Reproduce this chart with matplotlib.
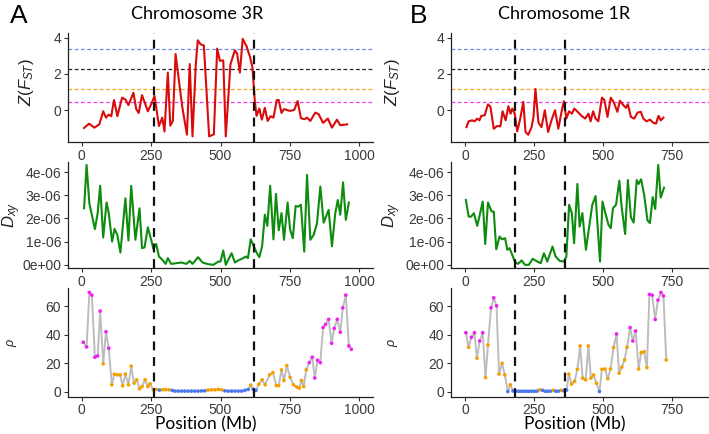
import numpy as np
import matplotlib
matplotlib.use("Agg")
from matplotlib import pyplot as plt

plt.rcParams['font.family'] = ['Liberation Sans', 'DejaVu Sans']
plt.rcParams['mathtext.fontset'] = 'custom'
plt.rcParams['mathtext.rm'] = 'Liberation Sans'
plt.rcParams['mathtext.it'] = 'Liberation Sans:italic'

## Chromosome 3R (panel A)
fst_pos_A = [8, 26, 45, 63, 77, 87, 97, 106, 116, 128, 145, 157, 168, 186, 196, 205, 217, 238, 250, 262,
             278, 290, 298, 310, 319, 328, 338, 362, 379, 389, 399, 411, 418, 428, 440, 459, 476, 488, 498, 510,
             519, 536, 552, 560, 570, 580, 594, 606, 615, 624, 630, 640, 649, 660, 670, 681, 691, 703, 710, 720,
             729, 751, 766, 778, 790, 802, 812, 824, 842, 854, 870, 887, 902, 920, 932, 944, 957]
fst_A = [-0.98, -0.74, -0.96, -0.78, -0.06, -0.41, -0.24, -0.33, 0.56, -0.33, 0.69, 0.59, 0.28, 0.96, 0.06,
         -0.15, 0.83, -0.06, 0.33, 0.78, -0.87, -0.41, -1.17, 2.07, -0.85, -0.59, 3.09, 0.19, -1.35, 2.54,
         -1.44, 2.54, 3.85, 3.63, 3.56, -1.44, -1.33, 3.39, 2.72, 2.74, -1.44, 2.54, 3.30, 3.11, 2.07,
         3.93, 3.52, 2.96, 2.37, 0.46, -0.31, 0.09, -0.52, 0.13, -0.59, -0.33, -0.41, 0.56, 0.56, -0.15,
         0.06, -0.04, 0.02, 0.5, -0.43, -0.5, -0.41, -0.59, -0.13, -0.22, -0.7, -0.46, -0.96, -0.52, -0.83,
         -0.8, -0.78]

dxy_pos_A = [8, 17, 27, 47, 57, 66, 77, 89, 97, 109, 118, 128, 139, 157, 168, 178, 193, 208, 217, 226,
             238, 250, 258, 268, 278, 290, 302, 310, 322, 341, 359, 377, 389, 399, 419, 435, 455, 474, 492, 500,
             510, 519, 540, 552, 564, 582, 592, 599, 609, 618, 630, 640, 650, 660, 669, 679, 691, 700, 710, 720,
             729, 742, 751, 761, 771, 780, 790, 802, 812, 824, 836, 848, 860, 872, 890, 902, 914, 923, 932, 942,
             952, 963]
dxy_A = [2.44, 4.31, 2.66, 1.54, 2.23, 3.41, 1.18, 2.69, 2.23, 1.0, 1.55, 1.29, 0.53, 2.87, 1.05, 3.41,
         1.08, 2.44, 0.72, 0.75, 1.62, 1.08, 0.68, 0.9, 0.36, 0.22, 0.04, 0.29, 0.04, 0.07, 0.1, 0.04, 0.17,
         0.04, 0.33, 0.1, 0.03, 0.0, 0.14, 0.14, 0.62, 0.0, 0.5, 0.1, 0.19, 0.29, 0.36, 0.29, 1.1, 0.86,
         0.53, 0.33, 0.8, 2.16, 1.68, 3.41, 1.1, 3.06, 1.49, 2.23, 1.08, 2.69, 1.52, 1.15, 2.54, 2.51, 2.59,
         0.57, 3.88, 1.08, 1.29, 1.79, 3.38, 1.82, 2.37, 0.8, 2.23, 2.8, 2.16, 3.56, 1.94, 2.69]  # x 1e-06

rho_pos_A = [5, 17, 27, 36, 47, 57, 66, 77, 87, 97, 108, 117, 128, 138, 147, 157, 168, 178, 188, 198,
             208, 217, 228, 238, 246,
             258, 268, 280, 292, 302, 314, 326, 336, 347, 359, 371, 383, 395, 407, 419, 431, 443, 455, 467, 480,
             492, 504, 516, 528, 540, 552, 564, 576, 588, 600, 609, 618, 628,
             638, 650, 661, 677, 689, 701, 710, 720, 729, 739, 751, 763, 775, 784, 792, 800, 809, 820, 831, 840,
             850, 860, 870, 879, 890, 901, 910, 921, 932, 941, 952, 963, 972]
rho_A = [34.6, 31.3, 69.6, 67.7, 24.1, 25, 56.5, 19.4, 42, 30.4, 4.7, 12.2, 11.7, 11.7, 4, 12.2, 4.7, 17.8,
         5.9, 8.2, 1.9, 3.5, 8.2, 3.5, 5.4,
         1.2, 1.5, 1.0, 1.3, 1.3, 1.2, 0.8, 0.3, 0.3, 0.3, 0.3, 0.3, 0.3, 0.3, 0.3, 0.4, 0.5, 1.0, 1.2, 1.2,
         1.5, 1.2, 0.5, 0.3, 0.3, 0.3, 0.3, 0.3, 0.8, 1.5, 4.5, 1.5, 0.8,
         5.1, 8.2, 4.7, 11.7, 13.3, 4.2, 4.2, 15.2, 7.7, 18.2, 10, 4.7, 3.1, 2.4, 7.7, 3.5, 15.2, 20.3, 24.1,
         9.5, 22, 20.3, 45, 47.2, 50.7, 33.9, 44.3, 50.7, 41.6, 58.8, 67.7, 32, 29.7]
# m = high, o = intermediate, b = low recombination class
rho_cls_A = ("mmmmmmmommooooooooooooooo"
             "oobooobbbbbbbbbbbooooobbbbbbbbobb"
             "ooooooooooooooooommmmmmmmmmmmmmmm")

## Chromosome 1R (panel B)
fst_pos_B = [4, 12, 24, 34, 43, 51, 58, 70, 82, 91, 103, 115, 127, 135, 146, 156, 164, 170, 179, 188,
             199, 210, 218, 228, 240, 247, 254, 265, 276, 288, 300, 312, 325, 337, 349, 357, 366, 376, 386, 395,
             407, 421, 434, 446, 454, 463, 472, 482, 495, 504, 515, 527, 538, 551, 560, 570, 582, 589, 600, 612,
             624, 636, 645, 656, 669, 681, 691, 700, 708, 718]
fst_B = [-0.93, -0.61, -0.56, -0.61, -0.46, -0.56, -0.31, -0.28, 0.32, 0.19, -1.02, -0.87, -0.89, -0.06,
         -0.56, 0.22, -0.19, 0.09, -0.19, -1.17, -0.46, 0.46, -1.2, -1.35, -0.93, -0.37, 1.17, -0.69, -0.93,
         0.0, -1.2, -0.56, 0.0, -1.02, -0.06, 0.5, -0.46, -0.06, -0.19, 0.09, -0.09, -0.31, -0.46, -0.19,
         -0.61, -0.06, -0.46, -0.61, 0.69, 0.56, -0.37, 0.69, 0.43, -0.09, 0.52, 0.32, 0.13, 0.33, -0.37,
         -0.46, -0.13, -0.09, -0.46, -0.61, -0.52, -0.69, -0.74, -0.31, -0.56, -0.41]

dxy_pos_B = [2, 12, 21, 31, 43, 55, 63, 72, 82, 95, 103, 112, 124, 133, 144, 152, 160, 170, 179, 191,
             204, 216, 230, 244, 261, 273, 285, 297, 316, 327, 342, 357, 366, 376, 386, 394, 406, 414, 424, 437,
             448, 460, 472, 488, 497, 509, 519, 527, 535, 546, 558, 567, 579, 589, 600, 610, 621, 628, 637, 648,
             660, 669, 679, 688, 699, 708, 720]
dxy_B = [2.8, 2.08, 2.08, 2.23, 1.68, 2.3, 2.73, 0.9, 2.69, 2.3, 2.3, 0.67, 1.22, 1.1, 1.15, 0.65, 0.72,
         0.43, 0.14, 0.04, 0.19, 0.0, 0.0, 0.26, 0.14, 0.07, 0.5, 0.14, 0.79, 0.36, 0.17, 0.14, 0.36, 2.59,
         2.23, 0.93, 3.49, 1.65, 2.23, 0.65, 1.58, 2.59, 2.97, 0.14, 2.73, 2.16, 1.72, 1.58, 2.44, 2.59, 3.63,
         2.44, 1.33, 3.66, 2.05, 1.82, 3.66, 3.49, 3.69, 3.02, 1.92, 1.8, 2.92, 2.41, 4.31, 2.9, 3.33]

rho_pos_B = [2, 12, 22, 33, 42, 52, 63, 73, 82, 93, 103, 113, 122, 133, 143, 154, 163,
             173, 183, 193, 202, 212, 222, 231, 241, 251, 260, 270, 280, 290, 299, 309, 319, 328, 338, 348, 357, 367,
             375, 385, 396, 406, 416, 425, 436, 446, 455, 465, 475, 486, 495, 506, 516, 526, 537, 548, 557, 567,
             577, 586, 597, 607, 617, 628, 637, 648, 658, 667, 677, 688, 698, 709, 718, 728]
rho_B = [41.3, 31.1, 38.1, 41.3, 23.4, 35.5, 41.3, 9.8, 32.7, 58.8, 65.8, 60.2, 12.3, 19.8, 11.6, 0, 4.7,
         0.4, 0.2, 0.2, 0.2, 0.2, 0.2, 0.2, 0.2, 0.2, 0.3, 1.2, 0.8, 0.2, 0.2, 0.3, 0.8, 0.2, 0.3, 0.8, 0.5, 1.0,
         12.2, 5.2, 7.1, 15.6, 32, 9.4, 8.2, 32, 9.4, 11.6, 5.8, 0, 15.6, 15.8, 9.0, 15.8, 30.9, 40.4, 12.9,
         17.1, 22.2, 31.1, 44.9, 35.5, 42.5, 15.8, 27.3, 28.0, 16.8, 68.2, 67.7, 50.6, 64.2, 69.6, 67.2, 22.2]
rho_cls_B = ("mommommoommmooobo"
             "bbbbbbbbbbobbbbobbobb"
             "ooooooooooobooooomoooommmoooommmmmmo")

# thresholds of Z(Fst), same in both panels
thresholds = [3.37, 2.26, 1.15, 0.46]
thr_colors = ['#6C8FE6', '#222222', '#F5A623', '#EE3BEE']

cls_colors = {'m': '#F020F0', 'o': '#F5A000', 'b': '#4A78F0'}

W, H = 709, 434
fig = plt.figure(figsize=(W / 100, H / 100), dpi=100)

def rect(x0, x1, y0, y1):
    return [x0 / W, 1 - y1 / H, (x1 - x0) / W, (y1 - y0) / H]

rows = [(33, 142), (161.7, 268.3), (288.3, 396.5)]
cols = {'A': (68, 373), 'B': (451, 709)}
xlims = {'A': (-50, 1050), 'B': (-52, 883)}
xticks = {'A': [0, 250, 500, 750, 1000], 'B': [0, 250, 500, 750]}
breaks = {'A': (259, 620), 'B': (179, 360)}

def style(ax, panel):
    for s in ['top', 'right']:
        ax.spines[s].set_visible(False)
    for s in ['left', 'bottom']:
        ax.spines[s].set_linewidth(0.9)
        ax.spines[s].set_color('#222222')
    ax.tick_params(direction='out', length=3, width=0.8, color='#333333',
                   labelsize=10, labelcolor='#3a3a3a', pad=2)
    ax.set_xlim(*xlims[panel])
    ax.set_xticks(xticks[panel])
    for b in breaks[panel]:
        ax.axvline(b, color='#111111', ls=(0, (4, 3)), lw=1.6, zorder=5)

data = {
    'A': (fst_pos_A, fst_A, dxy_pos_A, dxy_A, rho_pos_A, rho_A, rho_cls_A),
    'B': (fst_pos_B, fst_B, dxy_pos_B, dxy_B, rho_pos_B, rho_B, rho_cls_B),
}

for panel, (fp, fv, dp, dv, rp, rv, rc) in data.items():
    x0, x1 = cols[panel]
    # Z(Fst)
    ax = fig.add_axes(rect(x0, x1, *rows[0]))
    for t, c in zip(thresholds, thr_colors):
        ax.axhline(t, color=c, ls=(0, (3, 2)), lw=0.9, zorder=1)
    ax.plot(fp, fv, color='#D90B0B', lw=1.5, zorder=3)
    ax.set_ylim(-1.75, 4.25)
    ax.set_yticks([0, 2, 4])
    style(ax, panel)

    # Dxy
    ax = fig.add_axes(rect(x0, x1, *rows[1]))
    ax.plot(dp, dv, color='#0E8C0E', lw=1.5, zorder=3)
    ax.set_ylim(-0.15, 4.45)
    ax.set_yticks([0, 1, 2, 3, 4])
    ax.set_yticklabels(['0e+00', '1e-06', '2e-06', '3e-06', '4e-06'])
    style(ax, panel)

    # rho
    ax = fig.add_axes(rect(x0, x1, *rows[2]))
    ax.plot(rp, rv, color='#BDBDBD', lw=1.4, zorder=2)
    ax.scatter(rp, rv, s=7, c=[cls_colors[k] for k in rc], lw=0, zorder=3)
    ax.set_ylim(-3.5, 72.5)
    ax.set_yticks([0, 20, 40, 60])
    style(ax, panel)

# labels, placed in pixel coordinates
def ftext(x, y, s, **kw):
    fig.text(x / W, 1 - y / H, s, ha='center', va='center', **kw)

ftext(19, 16, 'A', fontsize=19)
ftext(419, 16, 'B', fontsize=19)
ftext(197, 14, 'Chromosome 3R', fontsize=13, family=['Lato', 'DejaVu Sans'])
ftext(564, 14, 'Chromosome 1R', fontsize=13, family=['Lato', 'DejaVu Sans'])
ftext(206, 424, 'Position (Mb)', fontsize=12.5, family=['Lato', 'DejaVu Sans'])
ftext(575, 424, 'Position (Mb)', fontsize=12.5, family=['Lato', 'DejaVu Sans'])

for xc in (27, 393):
    ftext(xc, 82, r'$Z(F_{ST})$', fontsize=12, rotation=90, color='#222222')
for xc in (12, 392):
    ftext(xc, 215, r'$D_{xy}$', fontsize=12, rotation=90, color='#222222')
for xc in (12, 393):
    ftext(xc, 342, r'$\rho$', fontsize=9, rotation=90, color='#222222')

fig.savefig('out.png', dpi=100)
